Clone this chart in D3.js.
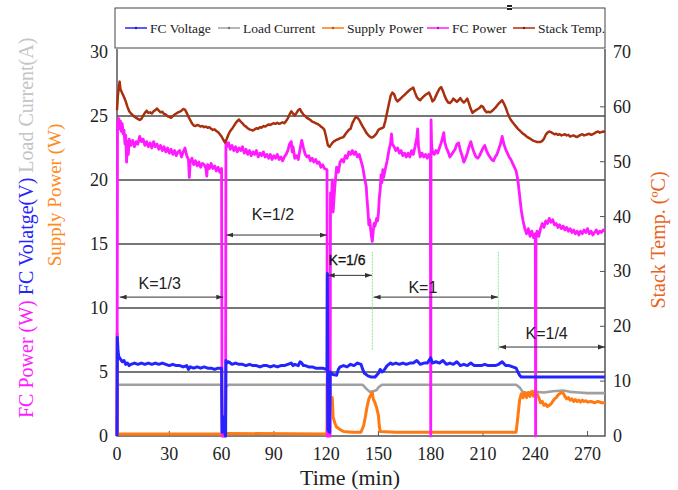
<!DOCTYPE html>
<html>
<head>
<meta charset="utf-8">
<script src="https://cdn.jsdelivr.net/npm/d3@7"></script>
<style>
  body { margin: 0; background: #fff; }
  svg { display: block; }
</style>
</head>
<body>
<div id="chart"></div>
<script>
// time (min) vs value
const fcPower = [[0,0],[0.3,24.5],[1,24.8],[1.5,24.0],[2,24.6],[2.5,23.8],[3,24.4],[3.5,23.6],[4,23.9],[4.6,22.8],[5,23.5],[5.5,21.4],[6,23.0],[6.5,22.0],[7,23.2],[8,22.7],[9,23.1],[10,22.6],[11,23.0],[12,22.8],[13,23.4],[14,23.0],[15,23.2],[16,22.7],[17,23.0],[18,22.6],[19,22.9],[20,22.5],[21,23.0],[22,22.6],[23,22.8],[24,22.4],[25,22.7],[26,22.3],[27,22.6],[28,22.2],[29,22.5],[30,22.1],[31,22.4],[32,22.0],[33,22.3],[34,21.9],[35,22.2],[36,22.3],[37,21.8],[38,22.2],[39,22.5],[40,21.9],[41,21.6],[41.5,20.2],[42,21.4],[43,21.7],[44,21.2],[45,21.5],[46,21.1],[47,21.4],[48,21.0],[49,21.3],[50,21.2],[51,20.9],[51.5,20.3],[52,21.2],[53,20.9],[54,21.3],[55,20.9],[56,21.1],[57,20.7],[58,21.0],[59,20.6],[60,20.9],[60.3,0],[62.3,0],[62.5,23.0],[63,22.6],[64,22.9],[65,22.4],[66,22.7],[67,22.3],[68,22.6],[69,22.2],[70,22.5],[71,22.3],[72,22.6],[73,22.1],[74,22.4],[75,22.0],[76,22.3],[77,21.9],[78,22.2],[79,22.0],[80,22.3],[81,21.8],[82,22.1],[83,21.9],[84,22.2],[85,21.8],[86,22.0],[87,21.7],[88,22.0],[89,21.6],[90,21.9],[91,21.7],[92,22.0],[93,21.6],[94,21.8],[95,21.5],[96,21.8],[97,22.0],[98,22.3],[99,22.8],[100,23.0],[100.5,22.2],[101,22.6],[102,21.7],[103,21.9],[104,21.6],[105,22.4],[106,23.1],[107,22.5],[108,22.0],[109,21.8],[110,21.9],[111,21.5],[112,21.7],[113,21.4],[114,21.6],[115,21.3],[116,21.4],[117,21.0],[118,21.2],[119,20.9],[120.5,20.8],[120.7,0],[122.3,0],[122.5,19.0],[123,18.2],[123.5,20.0],[124,17.5],[125,19.5],[126,21.0],[127,20.6],[128,21.4],[129,21.6],[130,21.4],[131,21.9],[132,21.7],[133,22.2],[134,22.0],[135,22.3],[136,22.0],[137,22.2],[138,21.8],[139,22.0],[140,21.5],[141,21.0],[142,20.2],[143,19.5],[143.5,18.4],[144,17.6],[144.5,16.5],[145,16.9],[145.5,16.2],[146,15.6],[146.5,15.2],[147,16.0],[147.5,16.6],[148,16.4],[149,17.0],[149.5,16.8],[150,17.4],[150.5,18.6],[151,19.2],[151.5,20.4],[152,19.8],[152.5,20.8],[153,20.2],[154,20.9],[155,21.5],[156,22.3],[157,22.9],[157.5,23.6],[158,22.8],[159,22.6],[160,22.3],[161,22.5],[162,22.1],[163,22.3],[164,21.9],[165,22.1],[166,21.8],[167,22.1],[168,21.8],[169,22.3],[170,22.0],[171,22.6],[172,23.3],[172.5,24.0],[173,22.6],[174,21.8],[175,22.1],[176,21.8],[177,22.0],[178,21.7],[179,22.0],[179.8,21.8],[180,0],[180.2,24.7],[180.5,22.8],[181,22.2],[182,22.0],[183,22.3],[184,22.1],[185,22.5],[186,22.9],[187,23.4],[187.5,23.7],[188,23.0],[189,22.5],[190,22.2],[191,21.8],[192,22.0],[193,22.2],[194,22.4],[195,22.8],[196,22.9],[197,22.3],[198,21.9],[199,21.4],[200,21.7],[201,22.1],[202,22.6],[203,23.0],[204,22.5],[205,22.1],[206,21.8],[207,21.7],[208,21.9],[209,22.2],[210,22.5],[211,22.7],[212,22.3],[213,22.0],[214,21.8],[215,21.6],[216,21.5],[217,21.8],[218,22.0],[219,22.4],[220,22.8],[221,23.4],[222,22.8],[223,22.4],[224,22.1],[225,21.8],[226,21.6],[227,21.3],[228,21.0],[229,20.7],[230,20.0],[231,18.8],[232,17.6],[233,16.8],[234,16.2],[235,15.8],[236,16.2],[237,15.6],[238,16.0],[239,15.5],[240,15.8],[240.2,0],[240.4,15.4],[241,16.0],[242,15.6],[243,16.2],[244,16.6],[245,16.3],[246,16.8],[247,16.6],[248,17.0],[249,16.7],[250,16.9],[251,16.5],[252,16.6],[253,16.3],[254,16.5],[255,16.2],[256,16.4],[257,16.1],[258,16.3],[259,16.0],[260,16.2],[261,15.9],[262,16.1],[263,15.8],[264,16.0],[265,15.7],[266,16.0],[267,15.8],[268,16.1],[269,15.9],[270,16.2],[271,15.8],[272,16.0],[273,15.7],[274,15.9],[275,16.1],[276,15.8],[277,16.0],[278,15.9],[279,16.1],[280,16.0]];

const fcVoltage = [[0,0],[0.2,7.7],[0.6,6.6],[1,6.2],[2,6.0],[3,5.8],[4,5.9],[5,5.6],[6,5.7],[7,5.5],[8,5.6],[10,5.7],[12,5.6],[14,5.7],[16,5.6],[18,5.7],[20,5.6],[22,5.7],[24,5.6],[26,5.7],[28,5.6],[30,5.5],[32,5.6],[34,5.5],[36,5.5],[38,5.4],[40,5.5],[41,5.2],[42,5.4],[44,5.3],[46,5.4],[48,5.3],[50,5.4],[52,5.3],[54,5.3],[56,5.2],[58,5.3],[60,5.3],[60.3,0.3],[61,1.5],[61.5,0.4],[62.3,0],[62.5,5.9],[63,5.7],[64,5.8],[66,5.6],[68,5.7],[70,5.6],[72,5.6],[74,5.5],[76,5.6],[78,5.5],[80,5.5],[82,5.4],[84,5.5],[86,5.5],[88,5.4],[90,5.5],[92,5.4],[94,5.5],[96,5.5],[98,5.6],[100,5.7],[101,5.5],[102,5.6],[104,5.5],[105,5.8],[106,5.7],[107,5.5],[108,5.5],[110,5.4],[112,5.4],[114,5.3],[116,5.3],[118,5.3],[120,5.2],[120.5,5.2],[120.7,12.7],[121,0.5],[122,0.3],[122.3,5.0],[124,4.8],[126,4.75],[127,5.2],[128,5.4],[130,5.5],[132,5.4],[134,5.6],[136,5.5],[138,5.7],[140,5.6],[141,5.2],[142,4.9],[144,4.7],[146,4.6],[148,4.6],[150,4.9],[151,5.2],[152,5.0],[153,5.1],[155,5.5],[157,5.7],[158,5.6],[160,5.7],[162,5.6],[164,5.7],[166,5.6],[168,5.7],[170,5.7],[172,5.9],[174,5.6],[176,5.7],[178,5.7],[180,6.1],[181,5.7],[183,5.8],[185,5.7],[187,5.9],[189,5.6],[191,5.7],[193,5.6],[195,5.8],[197,5.5],[199,5.6],[201,5.5],[203,5.7],[205,5.5],[207,5.5],[209,5.5],[211,5.6],[213,5.5],[215,5.5],[217,5.5],[219,5.6],[221,5.8],[223,5.5],[225,5.5],[227,5.4],[229,5.3],[230,5.0],[231,4.75],[232,4.6],[240,4.6],[260,4.6],[280,4.6]];

const loadCurrent = [[0,0.5],[0.3,4.0],[60,4.0],[60.3,0],[62.3,0],[62.5,4.0],[63,3.9],[64,4.0],[120.5,4.0],[120.7,0],[122.3,4.0],[141,4.0],[143,3.7],[145,3.45],[147,3.5],[149,3.6],[150,3.8],[152,4.0],[229,4.0],[231,3.8],[233,3.4],[235,3.35],[240,3.45],[245,3.4],[250,3.5],[256,3.55],[260,3.45],[265,3.4],[270,3.35],[280,3.35]];

const supplyPower = [[0,0],[0.1,8.0],[0.3,0.15],[60,0.15],[60.5,0.1],[62.5,0.15],[63,0.2],[120,0.15],[120.5,0.1],[120.7,4.6],[121,3.0],[122,3.8],[123,2.4],[123.5,3.0],[124,1.5],[125,1.0],[126,0.7],[128,0.5],[130,0.35],[135,0.3],[140,0.3],[141.5,0.8],[142.5,1.5],[143.5,2.3],[144.5,2.9],[145.5,3.2],[146.5,3.4],[147,2.9],[148,2.6],[149,2.2],[150,1.6],[150.5,0.8],[151,0.35],[160,0.3],[200,0.3],[229,0.3],[230,1.5],[231,2.8],[232,3.3],[233,3.0],[234,3.4],[235,3.0],[236,3.4],[237,3.1],[238,3.5],[239,3.1],[240,3.6],[241,3.3],[242,3.0],[243,2.6],[244,2.7],[245,2.4],[246,2.5],[247,2.3],[248,2.4],[249,2.5],[250,2.7],[251,2.9],[252,3.0],[253,3.2],[254,3.3],[255,3.4],[256,3.35],[257,3.1],[258,2.9],[259,3.0],[260,2.8],[261,2.9],[262,2.7],[263,2.85],[264,2.7],[265,2.8],[266,2.65],[267,2.8],[268,2.7],[269,2.75],[270,2.65],[272,2.7],[274,2.6],[276,2.7],[278,2.6],[280,2.6]];

const stackTemp = [[0,59.4],[0.5,62],[1,63.5],[1.5,64.6],[2,63.2],[3,62.5],[4,61.8],[5,61.0],[6,60.0],[7,59.2],[8,58.8],[9,58.5],[10,58.2],[11,58.0],[12,57.8],[13,57.6],[14,57.8],[15,58.4],[16,58.9],[17,59.3],[18,58.9],[19,59.0],[20,58.8],[21,59.2],[22,59.4],[23,59.7],[24,59.3],[25,59.0],[26,59.1],[27,58.7],[28,58.6],[29,58.3],[30,58.2],[31,58.0],[32,58.3],[33,58.6],[34,58.8],[35,59.0],[36,59.1],[37,59.3],[38,59.6],[39,59.5],[40,58.9],[41,58.2],[42,57.6],[43,57.0],[44,56.6],[45,56.5],[46,56.7],[47,56.6],[48,56.4],[49,56.5],[50,56.3],[51,56.4],[52,56.2],[53,56.3],[54,56.0],[55,55.8],[56,55.9],[57,55.6],[58,55.4],[59,55.0],[60,54.6],[61,54.0],[62,53.5],[63,54.2],[64,55.0],[65,55.6],[66,56.0],[67,56.5],[68,57.0],[69,57.4],[70,57.7],[71,57.3],[72,57.0],[73,56.6],[74,56.4],[75,56.1],[76,55.9],[77,55.8],[78,55.7],[79,55.9],[80,56.1],[81,56.0],[82,56.3],[83,56.2],[84,56.5],[85,56.4],[86,56.6],[87,56.8],[88,56.7],[89,56.9],[90,57.0],[91,56.9],[92,57.1],[93,56.9],[94,57.0],[95,57.2],[96,57.0],[97,57.4],[98,57.9],[99,58.6],[100,59.2],[101,58.8],[102,58.4],[103,58.9],[104,59.4],[105,59.6],[106,59.0],[107,58.6],[108,58.3],[109,58.0],[110,57.8],[111,57.6],[112,57.3],[113,57.2],[114,57.0],[115,56.9],[116,56.7],[117,56.4],[118,56.2],[119,55.8],[120,54.5],[121,53.0],[122,52.7],[123,53.2],[124,53.6],[125,53.8],[126,54.0],[127,54.1],[128,54.3],[129,54.4],[130,54.5],[131,55.0],[132,55.4],[133,55.8],[134,56.0],[135,57.0],[136,57.6],[137,58.2],[138,58.0],[139,57.6],[140,57.0],[141,56.4],[142,55.9],[143,55.3],[144,54.9],[145,54.6],[146,54.4],[147,54.5],[148,54.8],[149,55.2],[150,55.8],[151,56.0],[152,56.1],[153,56.3],[154,57.5],[155,59.0],[156,60.5],[157,62.0],[158,62.6],[159,62.3],[160,61.4],[161,61.0],[162,61.3],[163,61.6],[164,61.9],[165,62.2],[166,62.5],[167,62.8],[168,63.1],[169,63.3],[170,63.5],[171,62.6],[172,61.8],[173,61.4],[174,61.2],[175,61.6],[176,61.9],[177,62.2],[178,62.4],[179,62.6],[180,61.9],[181,61.0],[182,61.3],[183,62.0],[184,62.7],[185,63.3],[186,63.6],[187,62.9],[188,62.0],[189,61.3],[190,60.8],[191,60.7],[192,61.0],[193,61.5],[194,61.2],[195,60.9],[196,61.2],[197,61.6],[198,61.1],[199,60.8],[200,61.1],[201,61.5],[202,60.6],[203,59.6],[204,58.9],[205,59.2],[206,59.4],[207,59.6],[208,59.8],[209,60.2],[210,60.0],[211,59.4],[212,59.0],[213,59.1],[214,59.0],[215,59.2],[216,59.5],[217,59.8],[218,60.2],[219,60.6],[220,60.9],[221,61.2],[222,60.6],[223,59.9],[224,59.0],[225,58.2],[226,57.6],[227,57.2],[228,56.8],[229,56.4],[230,56.0],[231,55.7],[232,55.4],[233,55.1],[234,54.9],[235,54.6],[236,54.4],[237,54.2],[238,54.0],[239,53.8],[240,53.7],[241,53.6],[242,53.6],[243,53.6],[244,53.8],[245,54.2],[246,54.9],[247,55.3],[248,55.5],[249,55.4],[250,55.2],[251,55.0],[252,55.1],[253,54.9],[254,55.0],[255,54.8],[256,54.9],[257,55.0],[258,54.8],[259,54.9],[260,54.6],[261,54.7],[262,54.8],[263,54.6],[264,54.5],[265,54.7],[266,54.9],[267,55.0],[268,54.8],[269,54.9],[270,55.0],[271,55.1],[272,54.9],[273,55.0],[274,55.2],[275,55.4],[276,55.5],[277,55.3],[278,55.4],[279,55.5],[280,55.4]];

const xTicks = [0, 30, 60, 90, 120, 150, 180, 210, 240, 270];
const leftTicks = [0, 5, 10, 15, 20, 25, 30];
const rightTicks = [0, 10, 20, 30, 40, 50, 60, 70];

// K regions: [from, to, arrow level (left axis), label x (min), label level, text]
const kRanges = [
    [1.5, 61, 10.85, 24.5, 11.9, "K=1/3"],
    [62.8, 120.4, 15.7, 89.5, 17.3, "K=1/2"],
    [120.9, 146.3, 12.55, 132, 13.75, "K=1/6"],
    [147.2, 218.6, 10.85, 175.5, 11.6, "K=1"],
    [219.3, 280, 6.95, 246.5, 8.05, "K=1/4"]
];
const switchLines = [146.5, 218.8];

const legendItems = [
    ["FC Voltage", "#2424ff"],
    ["Load Current", "#a0a0a0"],
    ["Supply Power", "#ff7a12"],
    ["FC Power", "#ff1aff"],
    ["Stack Temp.", "#a8300e"]
];

const width = 678, height = 490;
const svg = d3.select("#chart").append("svg")
    .attr("width", width)
    .attr("height", height);

const x = d3.scaleLinear().domain([0, 280]).range([117, 605]);
const yL = d3.scaleLinear().domain([0, 30]).range([436, 52]);
const yR = d3.scaleLinear().domain([0, 70]).range([436, 52]);

const serif = "'Liberation Serif', 'Times New Roman', serif";
const sans = "'Liberation Sans', Arial, sans-serif";

// Gridlines
svg.selectAll("line.grid")
    .data([5, 10, 15, 20, 25])
    .enter()
    .append("line")
    .attr("class", "grid")
    .attr("x1", x(0)).attr("x2", x(280))
    .attr("y1", d => yL(d)).attr("y2", d => yL(d))
    .attr("stroke", "#4a4a4a")
    .attr("stroke-width", 1.6);

// Frame
svg.append("path")
    .attr("d", `M${x(0)},49 V${yL(0)} H${x(280)} V49`)
    .attr("fill", "none")
    .attr("stroke", "#555")
    .attr("stroke-width", 1.5);

// Inner ticks
svg.selectAll("line.xtick")
    .data(xTicks.slice(1))
    .enter()
    .append("line")
    .attr("x1", d => x(d)).attr("x2", d => x(d))
    .attr("y1", yL(0)).attr("y2", yL(0) - 5)
    .attr("stroke", "#555");

svg.selectAll("line.rtick")
    .data(rightTicks.slice(1, -1))
    .enter()
    .append("line")
    .attr("x1", x(280)).attr("x2", x(280) - 5)
    .attr("y1", d => yR(d)).attr("y2", d => yR(d))
    .attr("stroke", "#555");

// Tick labels
svg.selectAll("text.xlab")
    .data(xTicks)
    .enter()
    .append("text")
    .attr("x", d => x(d))
    .attr("y", 460)
    .attr("text-anchor", "middle")
    .attr("font-family", serif)
    .attr("font-size", 18)
    .attr("fill", "#222")
    .text(d => d);

svg.selectAll("text.ylab")
    .data(leftTicks)
    .enter()
    .append("text")
    .attr("x", 108)
    .attr("y", d => yL(d) + 6)
    .attr("text-anchor", "end")
    .attr("font-family", serif)
    .attr("font-size", 18)
    .attr("fill", "#222")
    .text(d => d);

svg.selectAll("text.rlab")
    .data(rightTicks)
    .enter()
    .append("text")
    .attr("x", 613)
    .attr("y", d => yR(d) + 6)
    .attr("font-family", serif)
    .attr("font-size", 18)
    .attr("fill", "#222")
    .text(d => d);

// Axis titles
svg.append("text")
    .attr("x", 350).attr("y", 485)
    .attr("text-anchor", "middle")
    .attr("font-family", serif)
    .attr("font-size", 22)
    .attr("fill", "#222")
    .text("Time (min)");

const leftTitle = svg.append("text")
    .attr("transform", "translate(33,418) rotate(-90)")
    .attr("font-family", serif)
    .attr("font-size", 20);
leftTitle.append("tspan").attr("fill", "#ff1aff").text("FC Power (W) ");
leftTitle.append("tspan").attr("fill", "#2424ff").text("FC Volatge(V) ");
leftTitle.append("tspan").attr("fill", "#c4c4c4").text("Load Current(A)");

svg.append("text")
    .attr("transform", "translate(61,195) rotate(-90)")
    .attr("text-anchor", "middle")
    .attr("font-family", serif)
    .attr("font-size", 19)
    .attr("fill", "#ff8a1e")
    .text("Supply Power (W)");

svg.append("text")
    .attr("transform", "translate(665,240) rotate(-90)")
    .attr("text-anchor", "middle")
    .attr("font-family", serif)
    .attr("font-size", 20)
    .attr("fill", "#e8641e")
    .text("Stack Temp. (ºC)");

// Series
const lineL = d3.line().x(d => x(d[0])).y(d => yL(d[1]));
const lineR = d3.line().x(d => x(d[0])).y(d => yR(d[1]));

function drawSeries(data, gen, color, w) {
    svg.append("path")
        .datum(data)
        .attr("d", gen)
        .attr("fill", "none")
        .attr("stroke", color)
        .attr("stroke-width", w)
        .attr("stroke-linejoin", "round");
}

drawSeries(loadCurrent, lineL, "#a0a0a0", 2.6);
drawSeries(supplyPower, lineL, "#ff7a12", 3);
drawSeries(fcPower, lineL, "#ff1aff", 2.8);
drawSeries(fcVoltage, lineL, "#2424ff", 3);
drawSeries(stackTemp, lineR, "#a8300e", 2.5);

// Green switching marks
svg.selectAll("line.switch")
    .data(switchLines)
    .enter()
    .append("line")
    .attr("x1", d => x(d)).attr("x2", d => x(d))
    .attr("y1", yL(14.4)).attr("y2", yL(6.7))
    .attr("stroke", "#8ee88e")
    .attr("stroke-width", 1)
    .attr("stroke-dasharray", "2,1");

// K annotations
const defs = svg.append("defs");
defs.append("marker")
    .attr("id", "arr")
    .attr("viewBox", "0 0 10 10")
    .attr("refX", 10).attr("refY", 5)
    .attr("markerWidth", 7).attr("markerHeight", 7)
    .attr("orient", "auto-start-reverse")
    .append("path")
    .attr("d", "M0,1.5 L10,5 L0,8.5 Z")
    .attr("fill", "#333");

svg.selectAll("line.karrow")
    .data(kRanges)
    .enter()
    .append("line")
    .attr("x1", d => x(d[0])).attr("x2", d => x(d[1]))
    .attr("y1", d => yL(d[2])).attr("y2", d => yL(d[2]))
    .attr("stroke", "#333")
    .attr("stroke-width", 1)
    .attr("marker-start", "url(#arr)")
    .attr("marker-end", "url(#arr)");

svg.selectAll("text.klab")
    .data(kRanges)
    .enter()
    .append("text")
    .attr("x", d => x(d[3]))
    .attr("y", d => yL(d[4]))
    .attr("dy", "0.35em")
    .attr("text-anchor", "middle")
    .attr("font-family", sans)
    .attr("font-size", d => d[5] === "K=1/6" ? 14 : 16)
    .attr("fill", d => d[5] === "K=1/6" ? "#111" : "#222")
    .attr("stroke", d => d[5] === "K=1/6" ? "#111" : "none")
    .attr("stroke-width", 0.3)
    .text(d => d[5]);

// Legend
svg.append("rect")
    .attr("x", 115).attr("y", 8)
    .attr("width", 490).attr("height", 40)
    .attr("fill", "#fff")
    .attr("stroke", "#444")
    .attr("stroke-width", 1);

const legendX = [125, 218, 322, 427, 513];
legendItems.forEach((item, i) => {
    const g = svg.append("g").attr("transform", `translate(${legendX[i]},28)`);
    g.append("line")
        .attr("x1", 0).attr("x2", 22)
        .attr("stroke", item[1])
        .attr("stroke-width", 1.5);
    g.append("circle")
        .attr("cx", 11).attr("r", 1.2)
        .attr("fill", d3.color(item[1]).darker(1));
    g.append("text")
        .attr("x", 25).attr("y", 5)
        .attr("font-family", serif)
        .attr("font-size", 13.5)
        .attr("fill", "#222")
        .text(item[0]);
});

// small mark on legend border
svg.append("rect")
    .attr("x", 507).attr("y", 5)
    .attr("width", 5).attr("height", 5)
    .attr("fill", "#222");
svg.append("line")
    .attr("x1", 507).attr("x2", 512)
    .attr("y1", 7.5).attr("y2", 7.5)
    .attr("stroke", "#fff");
</script>
</body>
</html>
